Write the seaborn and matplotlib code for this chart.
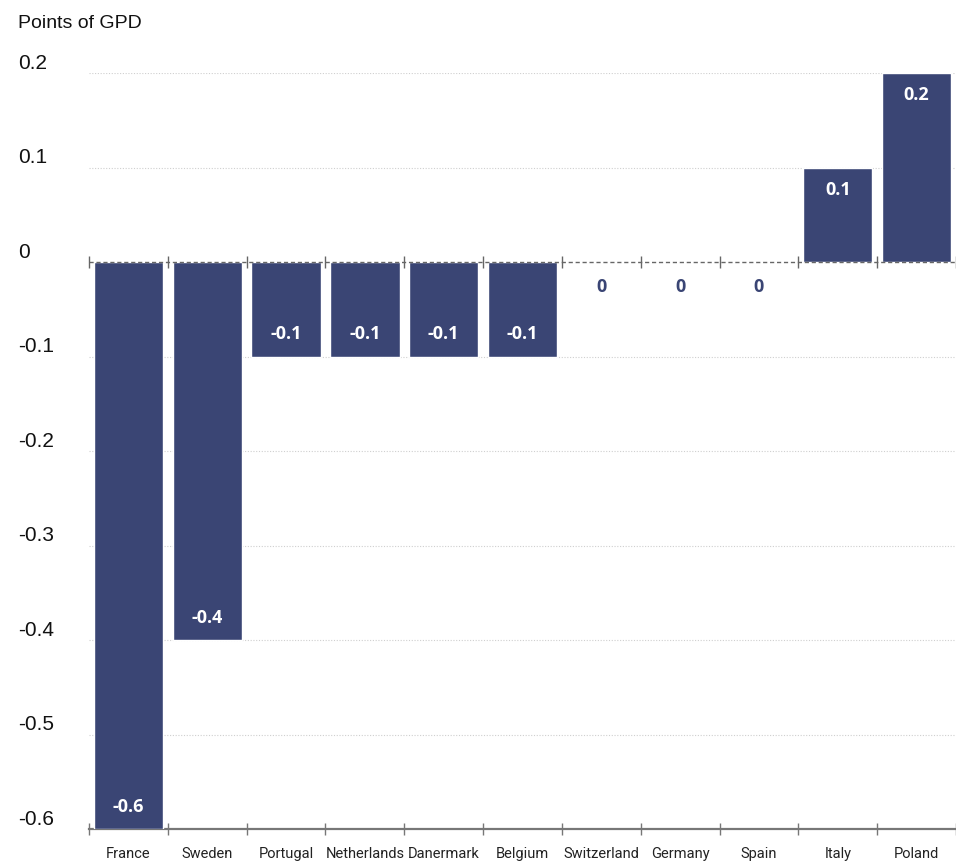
import matplotlib
matplotlib.use("Agg")
import matplotlib.pyplot as plt
import matplotlib.transforms as mtransforms
import seaborn as sns
import pandas as pd
import numpy as np

countries = ["France", "Sweden", "Portugal", "Netherlands", "Danermark", "Belgium",
             "Switzerland", "Germany", "Spain", "Italy", "Poland"]
values = [-0.6, -0.4, -0.1, -0.1, -0.1, -0.1, 0.0, 0.0, 0.0, 0.1, 0.2]
y_ticks = [0.2, 0.1, 0.0, -0.1, -0.2, -0.3, -0.4, -0.5, -0.6]
y_tick_labels = ["0.2", "0.1", "0", "-0.1", "-0.2", "-0.3", "-0.4", "-0.5", "-0.6"]
y_title = "Points of GPD"

bar_color = "#3a4574"
W, H = 956, 861

sns.set_theme(style="white")
plt.rcParams['font.family'] = ['Roboto', 'DejaVu Sans']

df = pd.DataFrame({"country": countries, "value": values})

fig = plt.figure(figsize=(W / 100, H / 100), dpi=100)
ax = fig.add_axes([89 / W, 1 - 829 / H, (W - 89) / W, (829 - 73) / H])

sns.barplot(data=df, x="country", y="value", color=bar_color, saturation=1,
            width=0.88, ax=ax, zorder=3)

n = len(countries)
ax.set_xlim(-0.5, n - 0.5)
ax.set_ylim(min(y_ticks), max(y_ticks))

# gridlines
for yv in y_ticks:
    if yv == 0 or yv == min(y_ticks):
        continue
    ax.axhline(yv, color="#cfcfcf", lw=0.8, ls=(0, (1, 1.5)), zorder=1)

# zero line dashed with ticks at category boundaries
bounds = np.arange(n + 1) - 0.5
ax.axhline(0, color="#666666", lw=1.0, ls=(0, (3, 2)), zorder=4)
ax.plot(bounds, np.zeros_like(bounds), ls="none", marker="|", ms=8, mew=1.0,
        color="#666666", zorder=4, clip_on=False)

# spines
for s in ["top", "right", "left"]:
    ax.spines[s].set_visible(False)
ax.spines["bottom"].set_color("#777777")
ax.spines["bottom"].set_linewidth(1.6)

ax.set_xticks(bounds)
ax.set_xticklabels([])
ax.set_xticks(np.arange(n), minor=True)
ax.set_xticklabels(countries, minor=True, fontsize=10.5, color="#222222")
ax.tick_params(axis="x", which="major", length=8, width=1.0, color="#777777",
               direction="inout", bottom=True)
ax.tick_params(axis="x", which="minor", length=0, pad=13)
ax.set_xlabel("")
ax.set_ylabel("")
ax.set_yticks([])

# y labels, left aligned at x=18
trans = mtransforms.blended_transform_factory(ax.transAxes, ax.transData)
off = mtransforms.ScaledTranslation(0, 7 / 72, fig.dpi_scale_trans)
ax_w = W - 89
for yv, lab in zip(y_ticks, y_tick_labels):
    ax.text((18 - 89) / ax_w, yv, lab, transform=trans + off, ha="left", va="center",
            fontsize=15, color="#111111", clip_on=False,
            family=['Liberation Sans', 'DejaVu Sans'])

fig.text(18 / W, 1 - 24 / H, y_title, ha="left", va="center", fontsize=14,
         color="#111111", family=['Liberation Sans', 'DejaVu Sans'])

# value labels
lab_font = dict(fontsize=13, fontweight="bold", family=['Open Sans', 'DejaVu Sans'], zorder=5)
for i, v in enumerate(values):
    txt = f"{v:g}"
    if v > 0:
        ax.annotate(txt, (i, v), xytext=(0, -16), textcoords="offset points",
                    ha="center", va="center", color="white", **lab_font)
    elif v < 0:
        ax.annotate(txt, (i, v), xytext=(0, 16), textcoords="offset points",
                    ha="center", va="center", color="white", **lab_font)
    else:
        ax.annotate("0", (i, v), xytext=(0, -18), textcoords="offset points",
                    ha="center", va="center", color=bar_color, **lab_font)

fig.savefig("out.png", dpi=100)
